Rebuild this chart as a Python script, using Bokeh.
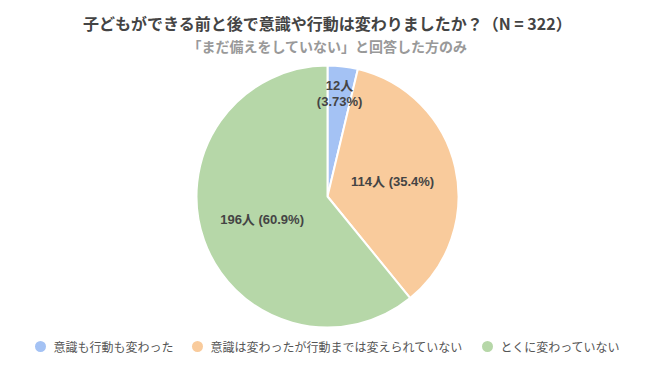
import math
from bokeh.plotting import figure
from bokeh.models import Range1d, ColumnDataSource
from bokeh.core.properties import value
from bokeh.embed import file_html
from bokeh.resources import INLINE

# ---- data ----
categories = ["意識も行動も変わった", "意識は変わったが行動までは変えられていない", "とくに変わっていない"]
counts = [12, 114, 196]
colors = ["#a4c2f4", "#f9cb9c", "#b6d7a8"]
title_text = "子どもができる前と後で意識や行動は変わりましたか？（N = 322）"
subtitle_text = "「まだ備えをしていない」と回答した方のみ"

FONT = "Noto Sans CJK JP"
LABEL_FONT = "Liberation Sans, Noto Sans CJK JP"
W, H = 638, 358

total = sum(counts)
pcts = [c / total * 100 for c in counts]


def fmt_pct(p):
    return f"{p:.2f}%" if p < 10 else f"{p:.1f}%"


labels = []
for c, pc in zip(counts, pcts):
    if pc < 10:
        labels.append(f"{c}人\n({fmt_pct(pc)})")
    else:
        labels.append(f"{c}人 ({fmt_pct(pc)})")

p = figure(width=W, height=H, output_backend="svg", toolbar_location=None,
           x_range=Range1d(0, W), y_range=Range1d(0, H), min_border=0)
p.axis.visible = False
p.grid.visible = False
p.outline_line_color = None
p.background_fill_color = "white"

cx, cy, r = 327, 162, 131
starts, ends = [], []
cum = 0.0
for c in counts:
    s = math.pi / 2 - cum / total * 2 * math.pi
    cum += c
    e = math.pi / 2 - cum / total * 2 * math.pi
    starts.append(s)
    ends.append(e)

src = ColumnDataSource(dict(start=starts, end=ends, color=colors))
p.wedge(x=cx, y=cy, radius=r, start_angle="start", end_angle="end",
        direction="clock", fill_color="color", line_color="white",
        line_width=2, source=src)

# slice labels
fracs = [0.79, 0.51, 0.53]
lx, ly = [], []
for s, e, f in zip(starts, ends, fracs):
    m = (s + e) / 2
    lx.append(cx + r * f * math.cos(m))
    ly.append(cy + r * f * math.sin(m))
p.text(x=lx, y=ly, text=labels, text_font=value(LABEL_FONT), text_font_size="13px",
       text_font_style="bold", text_color="#444444", text_align="center",
       text_baseline="middle", text_line_height=1.1)

# titles
p.text(x=[327], y=[H - 22], text=[title_text], text_font=value(FONT),
       text_font_size="16px", text_font_style="bold", text_color="#444444",
       text_align="center", text_baseline="middle")
p.text(x=[327], y=[H - 45], text=[subtitle_text], text_font=value(FONT),
       text_font_size="14px", text_font_style="bold", text_color="#999999",
       text_align="center", text_baseline="middle")

# legend
leg_x = [40, 197, 487]
leg_y = H - 346
p.scatter(x=leg_x, y=[leg_y] * 3, size=11, marker="circle", fill_color=colors,
          line_color=None)
p.text(x=[x + 13 for x in leg_x], y=[leg_y] * 3, text=categories,
       text_font=value(FONT), text_font_size="12px", text_color="#555555",
       text_align="left", text_baseline="middle")

open("out.html", "w").write(file_html(p, INLINE))
